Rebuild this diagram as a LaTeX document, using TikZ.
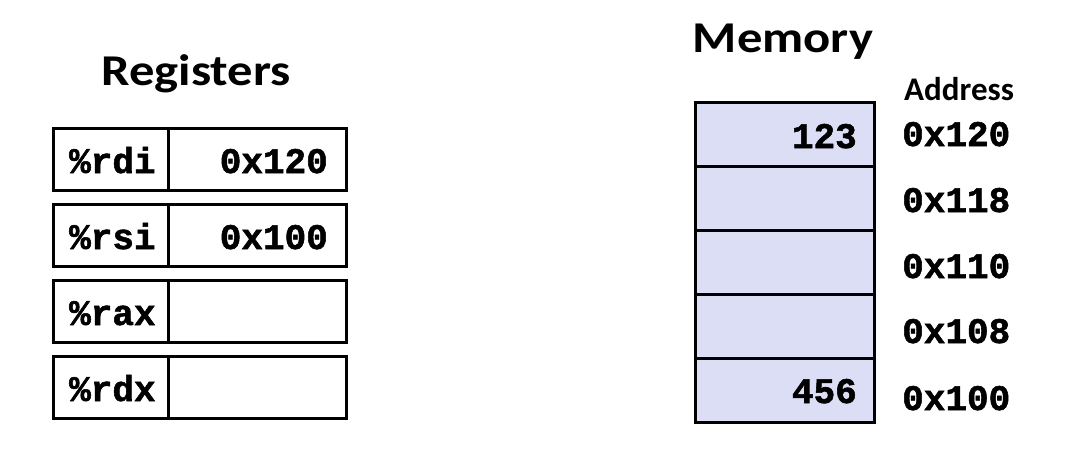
\documentclass[tikz,border=0pt]{standalone}
\usepackage{fontspec}
\setmainfont{Carlito}
\newfontfamily\codefont{Liberation Mono}[BoldFeatures={FakeBold=1.5}]
\definecolor{memfill}{RGB}{220,222,245}
\begin{document}
\begin{tikzpicture}[x=1pt,y=-1pt,
  title/.style={font=\fontsize{44}{44}\selectfont\bfseries, anchor=base, inner sep=0, xscale=1.15},
  addrhead/.style={font=\fontsize{33}{33}\selectfont\bfseries, anchor=base west, inner sep=0},
  code/.style={font=\fontsize{36}{36}\selectfont\codefont\bfseries, inner sep=0},
  cell/.style={draw=black, line width=3pt, rectangle, inner sep=0, anchor=north west},
  memcell/.style={cell, fill=memfill, minimum width=179pt, minimum height=64pt}
]
\useasboundingbox (0,0) rectangle (1090,450);
% titles
\node[title] (regtitle) at (196,85) {Registers};
\node[title] (memtitle) at (783,52) {Memory};
\node[addrhead] (addrtitle) at (904,100) {Address};
% registers
\foreach \i/\r/\v/\y in {1/rdi/0x120/127, 2/rsi/0x100/203, 3/rax//279, 4/rdx//355}{
  \node[cell, minimum width=115pt, minimum height=62pt] (rn\i) at (52,\y) {};
  \node[cell, minimum width=178pt, minimum height=62pt] (rv\i) at (167,\y) {};
  \node[code, anchor=base west] (rt\i) at (69,\y+46) {\%\r};
  \node[code, anchor=base east] (rvt\i) at (328,\y+46) {\v};
}
% memory
\foreach \i/\y in {1/101, 2/165, 3/229, 4/293, 5/357}{
  \node[memcell] (m\i) at (694,\y) {};
}
\node[code, anchor=base east] (m1t) at (857,148) {123};
\node[code, anchor=base east] (m5t) at (857,403) {456};
\foreach \i/\a/\y in {1/0x120/146, 2/0x118/212, 3/0x110/278, 4/0x108/343, 5/0x100/410}{
  \node[code, anchor=base west] (a\i) at (902,\y) {\a};
}
\end{tikzpicture}
\end{document}
